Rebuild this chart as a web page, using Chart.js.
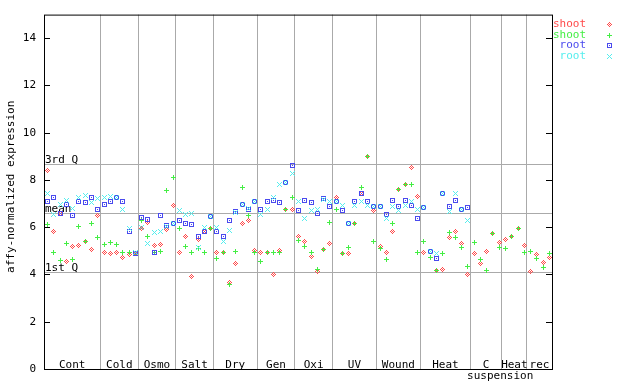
<!DOCTYPE html>
<html><head><meta charset="utf-8">
<script src="https://cdn.jsdelivr.net/npm/chart.js@4/dist/chart.umd.min.js"></script>
<style>html,body{margin:0;padding:0;background:#fff}</style>
</head><body>
<canvas id="c" width="640" height="384"></canvas>
<script>
// ---- data ----
const groupNames = ['Cont','Cold','Osmo','Salt','Dry','Gen','Oxi','UV','Wound','Heat','C','Heat','rec'];
const groupSubLabels = ['','','','','','','','','','','suspension','',''];
const groupSizes = [9,6,6,6,7,6,6,7,7,8,5,4,4];
const seriesNames = ['shoot','shoot','root','root'];
const shootA = [8.41,5.84,6.6,4.56,5.20,5.25,5.43,5.06,6.50,
  4.94,4.89,4.94,4.73,4.85,4.89,
  5.95,6.24,5.23,5.27,5.91,6.96,
  4.94,5.65,3.92,5.49,5.82,5.95,
  4.94,4.94,3.67,4.47,6.20,6.29,5.02,
  4.94,4.94,4.01,5.02,6.79,6.79,
  5.65,5.40,4.77,4.14,5.06,5.32,
  7.30,4.93,4.89,6.16,7.45,9.03,6.75,
  5.19,4.94,5.86,7.60,7.85,8.56,7.34,
  4.94,4.98,4.18,4.22,5.57,5.86,5.32,4.01,
  4.89,4.47,4.98,5.74,5.36,
  5.49,5.61,5.95,5.23,
  4.14,4.85,4.51,4.73];
const shootB = [6.12,4.94,4.60,5.32,4.64,6.05,5.43,6.20,5.58,
  5.27,5.36,5.27,4.94,4.94,4.89,
  6.30,5.65,4.94,4.98,7.59,8.14,
  5.95,5.19,4.94,5.11,4.94,5.95,
  4.68,4.94,3.58,4.98,7.72,6.50,4.94,
  4.56,4.94,4.94,4.94,6.79,7.26,
  5.44,5.19,4.94,4.22,5.06,6.24,
  6.79,4.93,5.15,6.16,7.72,9.03,5.40,
  5.11,4.64,6.16,7.60,7.85,7.85,4.94,
  5.40,4.73,4.18,4.89,5.78,5.57,5.15,4.35,
  5.36,4.64,4.18,5.74,5.15,
  5.11,5.61,5.95,4.94,
  4.98,4.68,4.30,4.89];
const rootA = [7.10,7.26,6.62,7.00,6.50,7.13,7.05,7.30,6.79,
  7.00,7.10,7.26,7.13,5.86,4.89,
  6.45,6.33,4.94,6.51,6.08,6.20,
  6.29,6.20,6.12,5.65,5.82,6.46,
  5.86,5.65,6.29,6.70,7.00,6.79,7.09,
  6.79,7.09,7.17,7.05,7.93,8.62,
  6.71,7.17,7.05,6.62,7.22,6.92,
  7.13,6.71,6.16,7.13,7.47,7.13,6.92,
  6.88,6.58,7.17,6.92,7.17,6.96,6.41,
  6.84,4.98,4.68,7.43,6.88,7.17,6.79,6.84,
  null,null,null,null,null,
  null,null,null,null,
  null,null,null,null];
const rootB = [7.47,6.58,7.00,7.17,6.83,7.26,7.38,7.08,7.24,
  7.30,7.33,7.26,6.77,5.95,4.94,
  5.99,5.33,5.80,5.86,6.05,6.20,
  6.75,6.54,6.62,5.15,6.03,6.46,
  5.99,5.40,5.90,6.65,7.00,6.80,7.09,
  6.54,6.79,7.29,7.85,7.90,8.31,
  7.13,6.41,6.71,6.79,7.20,7.13,
  7.13,6.96,6.16,6.96,7.09,6.96,6.92,
  6.88,6.37,6.88,6.75,6.96,7.09,6.79,
  6.84,4.98,4.89,7.43,6.67,7.43,6.79,6.29,
  null,null,null,null,null,
  null,null,null,null,
  null,null,null,null];
const refValues = [8.69, 6.62, 4.09];
const refLabels = ['3rd Q','mean','1st Q'];
const yTickValues = [0,2,4,6,8,10,12,14];

// ---- styles ----
const COLORS = ['#ff4a4a','#44ee44','#4a4aee','#55eeee'];
const FONT = '11px "DejaVu Sans Mono", monospace';
const GRID = '#aaaaaa';

function makeMarker(kind, color){
  const c = document.createElement('canvas'); c.width = 5; c.height = 5;
  const g = c.getContext('2d'); g.fillStyle = color;
  for (let dy=-2; dy<=2; dy++) for (let dx=-2; dx<=2; dx++){
    let on=false;
    if (kind==='diamond') on = (Math.abs(dx)+Math.abs(dy)<=2) && ((dx+dy)%2===0);
    if (kind==='plus') on = dx===0 || dy===0;
    if (kind==='square') on = Math.abs(dx)===2 || Math.abs(dy)===2 || (dx===0&&dy===0);
    if (kind==='x') on = Math.abs(dx)===Math.abs(dy);
    if (on) g.fillRect(dx+2, dy+2, 1, 1);
  }
  return c;
}
const markers = [makeMarker('diamond',COLORS[0]), makeMarker('plus',COLORS[1]), makeMarker('square',COLORS[2]), makeMarker('x',COLORS[3])];

function toPoints(arr){ const out=[]; arr.forEach((v,i)=>{ if(v!==null) out.push({x:i+0.5,y:v}); }); return out; }
const boundaries = [0]; groupSizes.forEach(s => boundaries.push(boundaries[boundaries.length-1]+s));
const nSamples = boundaries[boundaries.length-1];

const allSeries = [shootA, shootB, rootA, rootB];
const datasets = allSeries.map((arr,k)=>({
  label: seriesNames[k], data: toPoints(arr), pointStyle: markers[k],
  pointRadius: 3, pointHoverRadius: 3, showLine: false, order: 4-k,
  borderColor: COLORS[k], backgroundColor: COLORS[k]
}));

const decor = {
  id: 'decor',
  beforeDatasetsDraw(chart){
    const {ctx, chartArea:a, scales:{y}} = chart;
    ctx.save();
    ctx.strokeStyle = GRID; ctx.lineWidth = 1;
    ctx.font = FONT; ctx.fillStyle = '#000'; ctx.textBaseline = 'alphabetic'; ctx.textAlign='left';
    refValues.forEach((v,i)=>{
      const py = Math.round(y.getPixelForValue(v)) + 0.5;
      ctx.beginPath(); ctx.moveTo(a.left, py); ctx.lineTo(a.right, py); ctx.stroke();
      ctx.fillText(refLabels[i], a.left+1, py-1.5);
    });
    ctx.restore();
    // snap marker centres to whole pixels so the pixel-pattern markers stay crisp
    chart.getSortedVisibleDatasetMetas().forEach(m => m.data.forEach(el => {
      el.x = Math.round(el.x) + 0.5; el.y = Math.round(el.y) + 0.5;
    }));
    ctx.imageSmoothingEnabled = false;
  },
  afterDatasetsDraw(chart){ chart.ctx.imageSmoothingEnabled = true; },
  afterDraw(chart){
    const {ctx, chartArea:a, scales:{x,y}} = chart;
    ctx.save();
    ctx.strokeStyle = '#000'; ctx.lineWidth = 1;
    ctx.strokeRect(a.left+0.5, a.top+0.5, a.right-a.left, a.bottom-a.top);
    ctx.beginPath();
    yTickValues.forEach(v=>{
      const py = Math.round(y.getPixelForValue(v)) + 0.5;
      ctx.moveTo(a.left, py); ctx.lineTo(a.left+6, py);
      ctx.moveTo(a.right-6, py); ctx.lineTo(a.right, py);
    });
    ctx.stroke();
    ctx.font = FONT; ctx.fillStyle = '#000'; ctx.textAlign = 'center'; ctx.textBaseline = 'alphabetic';
    groupNames.forEach((nm,i)=>{
      const cx = x.getPixelForValue((boundaries[i]+boundaries[i+1])/2);
      ctx.fillText(nm, cx, a.bottom-1.5);
      if (groupSubLabels[i]) ctx.fillText(groupSubLabels[i], cx+14, a.bottom+10);
    });
    ctx.save();
    ctx.translate(11, (a.top+a.bottom)/2 - 5);
    ctx.rotate(-Math.PI/2);
    ctx.textBaseline = 'middle';
    ctx.fillText('affy-normalized expression', 0, 0);
    ctx.restore();
    ctx.textAlign = 'right'; ctx.textBaseline = 'middle';
    ctx.imageSmoothingEnabled = false;
    seriesNames.forEach((nm,k)=>{
      const ly = 24 + k*10.7;
      ctx.fillStyle = COLORS[k];
      ctx.fillText(nm, 586, ly);
      ctx.drawImage(markers[k], 607, Math.round(ly)-2);
    });
    ctx.restore();
  }
};

new Chart(document.getElementById('c'), {
  type: 'scatter',
  data: { datasets },
  options: {
    responsive: false, devicePixelRatio: 1, animation: false,
    layout: { padding: { top: 13, right: 88, left: 0, bottom: 0 } },
    plugins: { legend: { display: false }, tooltip: { enabled: false } },
    scales: {
      x: {
        type: 'linear', min: 0, max: nSamples, position: 'bottom',
        afterBuildTicks: s => { s.ticks = boundaries.map(v => ({ value: v })); },
        afterFit: s => { s.height = 15; },
        ticks: { display: false },
        grid: { drawTicks: false, lineWidth: 1,
          color: c => (c.tick && (c.tick.value === 0 || c.tick.value === nSamples)) ? 'rgba(0,0,0,0)' : GRID },
        border: { display: false }
      },
      y: {
        type: 'linear', min: 0, max: 15,
        afterBuildTicks: s => { s.ticks = yTickValues.map(v => ({ value: v })); },
        afterFit: s => { s.width = 44; },
        ticks: { font: { family: '"DejaVu Sans Mono", monospace', size: 11 }, color: '#000', padding: 8 },
        grid: { display: false, drawTicks: false },
        border: { display: false }
      }
    }
  },
  plugins: [decor]
});
</script>
</body></html>
